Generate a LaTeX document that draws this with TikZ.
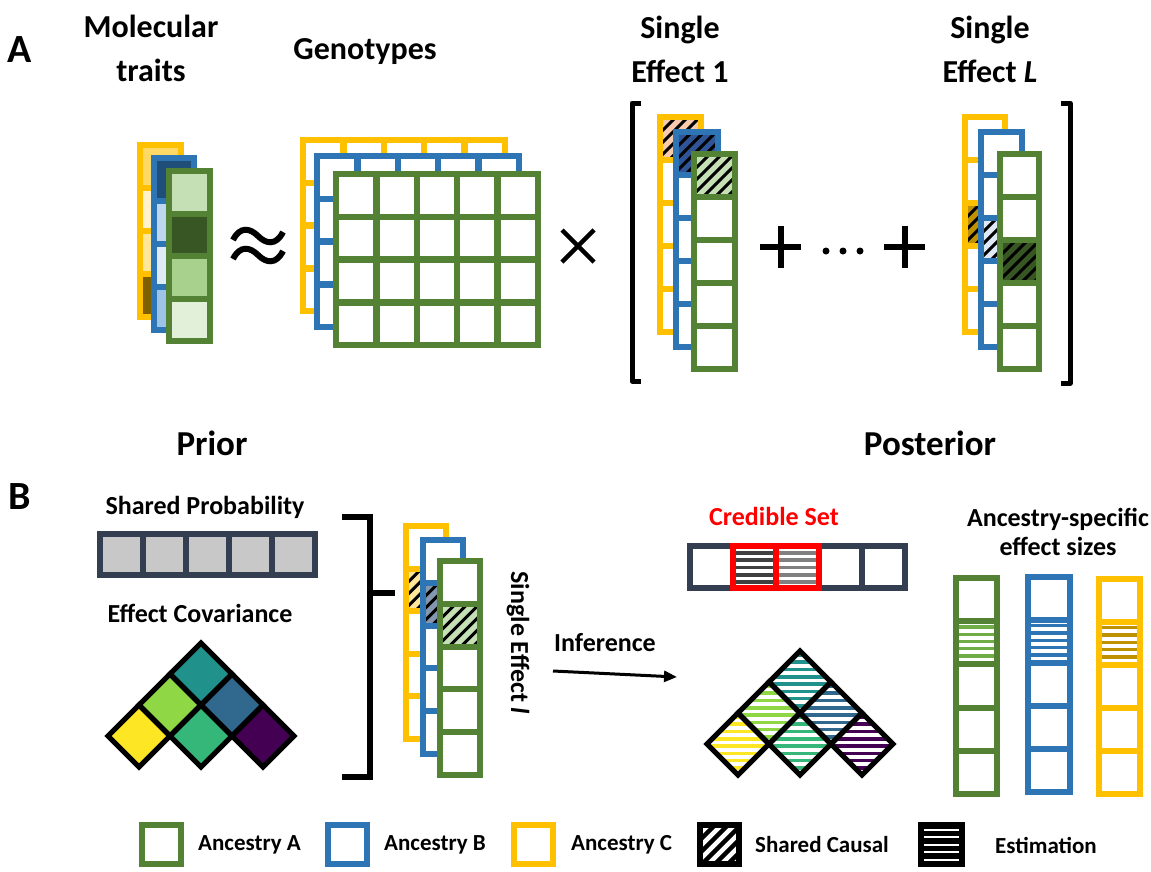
\documentclass[tikz,border=0pt]{standalone}
\usepackage{fontspec}
\setmainfont{Carlito}
\usetikzlibrary{arrows.meta}

% ancestry frame colours
\definecolor{ancA}{HTML}{548235}
\definecolor{ancB}{HTML}{2E75B6}
\definecolor{ancC}{HTML}{FFC000}
\definecolor{slate}{HTML}{333F50}
\definecolor{probgray}{HTML}{C8C8C8}
% trait cell shades
\definecolor{cA1}{HTML}{C5E0B4}\definecolor{cA2}{HTML}{375623}
\definecolor{cA3}{HTML}{A9D18E}\definecolor{cA4}{HTML}{E2F0D9}
\definecolor{cB1}{HTML}{1F4E79}\definecolor{cB2}{HTML}{BDD7EE}
\definecolor{cB3}{HTML}{DEEBF7}\definecolor{cB4}{HTML}{9DC3E6}
\definecolor{cC1}{HTML}{FFD966}\definecolor{cC2}{HTML}{FFF2CC}
\definecolor{cC3}{HTML}{FFE699}\definecolor{cC4}{HTML}{7F6000}
% single-effect cell shades
\definecolor{peach}{HTML}{F8CBAD}
\definecolor{midblue}{HTML}{2F5597}
\definecolor{gold}{HTML}{BF9000}
\definecolor{slateblue}{HTML}{8497B0}
\definecolor{paleyellow}{HTML}{FFE699}
\definecolor{stripegreen}{HTML}{70AD47}
% viridis
\definecolor{vYel}{HTML}{FDE725}
\definecolor{vLime}{HTML}{8FD744}
\definecolor{vTeal}{HTML}{21918C}
\definecolor{vBlue}{HTML}{31688E}
\definecolor{vGreen}{HTML}{35B779}
\definecolor{vPurple}{HTML}{440154}
\definecolor{credRed}{HTML}{FF0000}
\definecolor{darkgray}{HTML}{404040}
\definecolor{midgray}{HTML}{808080}

\tikzset{
  hd/.style={font=\fontsize{32}{44}\selectfont\bfseries, align=center, inner sep=0pt},
  panel/.style={font=\fontsize{40}{40}\selectfont\bfseries, inner sep=0pt},
  big/.style={font=\fontsize{35}{35}\selectfont\bfseries, inner sep=0pt},
  lbl/.style={font=\fontsize{26}{29}\selectfont\bfseries, align=center, inner sep=0pt},
  leg/.style={font=\fontsize{23}{23}\selectfont\bfseries, inner sep=0pt},
  frame/.style={line width=6pt},
  bracket/.style={line width=5pt, line join=round},
  symb/.style={line width=6pt},
  dframe/.style={line width=5pt, line join=miter},
}

% vertical strip of cells: x0, y0, x1, y1 (outer), cells, frame colour, fills, extra drawing
\newcommand\strip[8]{%
  \def\sxa{#1}\def\sya{#2}\def\sxb{#3}\def\syb{#4}%
  \pgfmathsetmacro\pitch{(#4-#2-6)/#5}%
  \fill[white] (#1,#2) rectangle (#3,#4);
  \foreach \f [count=\k from 0] in {#7}{%
    \fill[\f] (#1+3,{#2+3+\k*\pitch}) rectangle (#3-3,{#2+3+(\k+1)*\pitch});}
  #8%
  \draw[frame,#6] (#1+3,#2+3) rectangle (#3-3,#4-3);
  \foreach \k in {1,...,#5}{%
    \draw[frame,#6] (#1,{#2+3+\k*\pitch}) -- (#3,{#2+3+\k*\pitch});}
}
% diagonal hatching of one cell of the current strip
\newcommand\hatchcell[1]{%
  \begin{scope}
    \clip (\sxa+3,{\sya+3+#1*\pitch}) rectangle (\sxb-3,{\sya+3+(#1+1)*\pitch});
    \foreach \s in {-60,-48,...,60}{%
      \draw[line width=3pt] ({\sxa+\s},{\sya+3+(#1+1)*\pitch}) -- ++(60,-60);}
  \end{scope}}
% horizontal stripes in one cell of the current strip
\newcommand\stripecell[2]{%
  \foreach \t in {0,...,5}{%
    \fill[#1] (\sxa+6,{\sya+3+#2*\pitch+4+\t*7.3}) rectangle (\sxb-6,{\sya+3+#2*\pitch+7.3+\t*7.3});}}
% 5x4 grid of cells: x0, y0, x1, y1 (outer), colour
\newcommand\cellgrid[5]{%
  \fill[white] (#1,#2) rectangle (#3,#4);
  \pgfmathsetmacro\cp{(#3-#1-6)/5}%
  \pgfmathsetmacro\rp{(#4-#2-6)/4}%
  \draw[line width=6.5pt,#5] (#1+3,#2+3) rectangle (#3-3,#4-3);
  \foreach \k in {1,...,4}{\draw[line width=6.5pt,#5] ({#1+3+\k*\cp},#2) -- ({#1+3+\k*\cp},#4);}
  \foreach \k in {1,...,3}{\draw[line width=6.5pt,#5] (#1,{#2+3+\k*\rp}) -- (#3,{#2+3+\k*\rp});}
}
% diamond path around centre
\newcommand\dmd[2]{(#1-31,#2) -- (#1,#2-31) -- (#1+31,#2) -- (#1,#2+31) -- cycle}
% striped diamond
\newcommand\sdmd[3]{%
  \begin{scope}
    \clip \dmd{#1}{#2};
    \foreach \t in {0,...,9}{\fill[#3] (#1-32,{#2-31+2+\t*7.3}) rectangle (#1+32,{#2-31+5.6+\t*7.3});}
  \end{scope}}

\begin{document}
\begin{tikzpicture}[x=1pt,y=-1pt]
\useasboundingbox (0,0) rectangle (1151,871);
\fill[white] (0,0) rectangle (1151,871);

% ---------------- panel A ----------------
\node[panel] (labA) at (20,50) {A};
\node[hd] (hMol) at (151,48) {Molecular\\traits};
\node[hd] (hGeno) at (365,52) {Genotypes};
\node[hd] (hSE1) at (680,49) {Single\\Effect 1};
\node[hd] (hSEL) at (990,49) {Single\\Effect \textit{L}};

% molecular traits
\strip{137}{142}{184}{320}{4}{ancC}{cC1,cC2,cC3,cC4}{}
\strip{151}{155}{197}{333}{4}{ancB}{cB1,cB2,cB3,cB4}{}
\strip{166}{168}{213}{344}{4}{ancA}{cA1,cA2,cA3,cA4}{}

% approximately equal
\draw[symb] (233,240) .. controls (240,226) and (250,228) .. (258,236) .. controls (266,244) and (276,246) .. (283,232);
\draw[symb] (233,259) .. controls (240,245) and (250,247) .. (258,255) .. controls (266,263) and (276,265) .. (283,251);

% genotypes
\cellgrid{300}{137}{508}{314}{ancC}
\cellgrid{314}{153}{522}{330}{ancB}
\cellgrid{333}{171}{541}{348}{ancA}

% times
\draw[line width=4.5pt] (562,230) -- (594,262) (562,262) -- (594,230);

% brackets
\draw[bracket] (641,103) -- (632,103) -- (632,381) -- (641,381);
\draw[bracket] (1061,103) -- (1070,103) -- (1070,383) -- (1061,383);

% single effect 1
\strip{657}{114}{704}{335}{5}{ancC}{peach,white,white,white,white}{\hatchcell{0}}
\strip{673}{129}{721}{350}{5}{ancB}{midblue,white,white,white,white}{\hatchcell{0}}
\strip{691}{151}{738}{372}{5}{ancA}{cA1,white,white,white,white}{\hatchcell{0}}

% plus, dots, plus
\draw[symb] (760,247) -- (801,247) (780.5,226) -- (780.5,268);
\fill (826,251) circle (3.5) (843,251) circle (3.5) (860,251) circle (3.5);
\draw[symb] (884,247) -- (925,247) (904.5,226) -- (904.5,268);

% single effect L
\strip{962}{114}{1008}{335}{5}{ancC}{white,white,gold,white,white}{\hatchcell{2}}
\strip{978}{129}{1025}{350}{5}{ancB}{white,white,cB3,white,white}{\hatchcell{2}}
\strip{997}{151}{1042}{372}{5}{ancA}{white,white,cA2,white,white}{\hatchcell{2}}

% ---------------- panel B ----------------
\node[big] (hPrior) at (212,443) {Prior};
\node[big] (hPost) at (930,443) {Posterior};
\node[panel] (labB) at (20,497) {B};

\node[lbl] (tProb) at (205,507) {Shared Probability};
\fill[probgray] (100,534) rectangle (315,575);
\draw[frame,slate] (100,534) rectangle (315,575);
\foreach \k in {1,...,4}{\draw[frame,slate] ({100+\k*43},531) -- ({100+\k*43},578);}

\node[lbl] (tCov) at (200,613) {Effect Covariance};
\fill[vTeal] \dmd{201}{674};
\fill[vLime] \dmd{170}{705};
\fill[vBlue] \dmd{232}{705};
\fill[vYel] \dmd{139}{736};
\fill[vGreen] \dmd{201}{736};
\fill[vPurple] \dmd{263}{736};
\foreach \cx/\cy in {201/674,170/705,232/705,139/736,201/736,263/736}{\draw[dframe] \dmd{\cx}{\cy};}

% prior bracket
\draw[line width=6pt] (342,517) -- (370,517) -- (370,777) -- (342,777);
\draw[line width=6pt] (370,593) -- (395,593);

% single effect l
\strip{403}{523}{449}{742}{5}{ancC}{white,paleyellow,white,white,white}{\hatchcell{1}}
\strip{420}{537}{466}{757}{5}{ancB}{white,slateblue,white,white,white}{\hatchcell{1}}
\strip{437}{558}{483}{778}{5}{ancA}{white,cA1,white,white,white}{\hatchcell{1}}
\node[lbl, rotate=-90] (tSEl) at (518,643) {Single Effect \textit{l}};

% inference
\node[lbl] (tInf) at (605,643) {Inference};
\coordinate (infA) at (553,671);
\coordinate (infB) at (677,677);
\draw[line width=3pt,-{Triangle[length=13pt,width=11pt]}] (infA) -- (infB);

% credible set
\node[lbl, text=credRed] (tCred) at (774,516) {Credible Set};
\fill[white] (690,546) rectangle (905,588);
\foreach \t in {0,...,4}{%
  \fill[darkgray] (736,{549+2+\t*7.3}) rectangle (773,{549+5.6+\t*7.3});
  \fill[midgray] (779,{549+2+\t*7.3}) rectangle (816,{549+5.6+\t*7.3});}
\draw[frame,slate] (690,546) rectangle (905,588);
\foreach \k in {3,4}{\draw[frame,slate] ({690+\k*43},543) -- ({690+\k*43},591);}
\draw[line width=6.5pt,credRed] (733,546) rectangle (819,588);
\draw[line width=6.5pt,credRed] (776,543) -- (776,591);

% posterior covariance
\sdmd{800}{682}{vTeal}
\sdmd{769}{713}{vLime}
\sdmd{831}{713}{vBlue}
\sdmd{738}{744}{vYel}
\sdmd{800}{744}{vGreen}
\sdmd{862}{744}{vPurple}
\foreach \cx/\cy in {800/682,769/713,831/713,738/744,800/744,862/744}{\draw[dframe] \dmd{\cx}{\cy};}

% ancestry-specific effect sizes
\node[lbl] (tSpec) at (1058,532) {Ancestry-specific\\effect sizes};
\strip{953}{575}{1000}{797}{5}{ancA}{white,white,white,white,white}{\stripecell{stripegreen}{1}}
\strip{1025}{574}{1073}{795}{5}{ancB}{white,white,white,white,white}{\stripecell{ancB}{1}}
\strip{1096}{576}{1143}{797}{5}{ancC}{white,white,white,white,white}{\stripecell{gold}{1}}

% ---------------- legend ----------------
\draw[frame,ancA] (142,825) rectangle (181,864);
\node[leg,anchor=west] (lA) at (198,845) {Ancestry A};
\draw[frame,ancB] (328,825) rectangle (367,864);
\node[leg,anchor=west] (lB) at (384,845) {Ancestry B};
\draw[frame,ancC] (514,825) rectangle (553,864);
\node[leg,anchor=west] (lC) at (571,845) {Ancestry C};
\begin{scope}
  \clip (700,825) rectangle (739,864);
  \foreach \s in {-50,-37,...,50}{\draw[line width=4.5pt] (700+\s,864) -- ++(50,-50);}
\end{scope}
\draw[frame] (700,825) rectangle (739,864);
\node[leg,anchor=west] (lS) at (755,845) {Shared Causal};
\fill (918,822) rectangle (965,867);
\foreach \t in {1,...,5}{\fill[white] (924,{822+\t*7.5-1}) rectangle (959,{822+\t*7.5+1});}
\node[leg,anchor=west] (lE) at (995,845) {Estimation};
\end{tikzpicture}
\end{document}
